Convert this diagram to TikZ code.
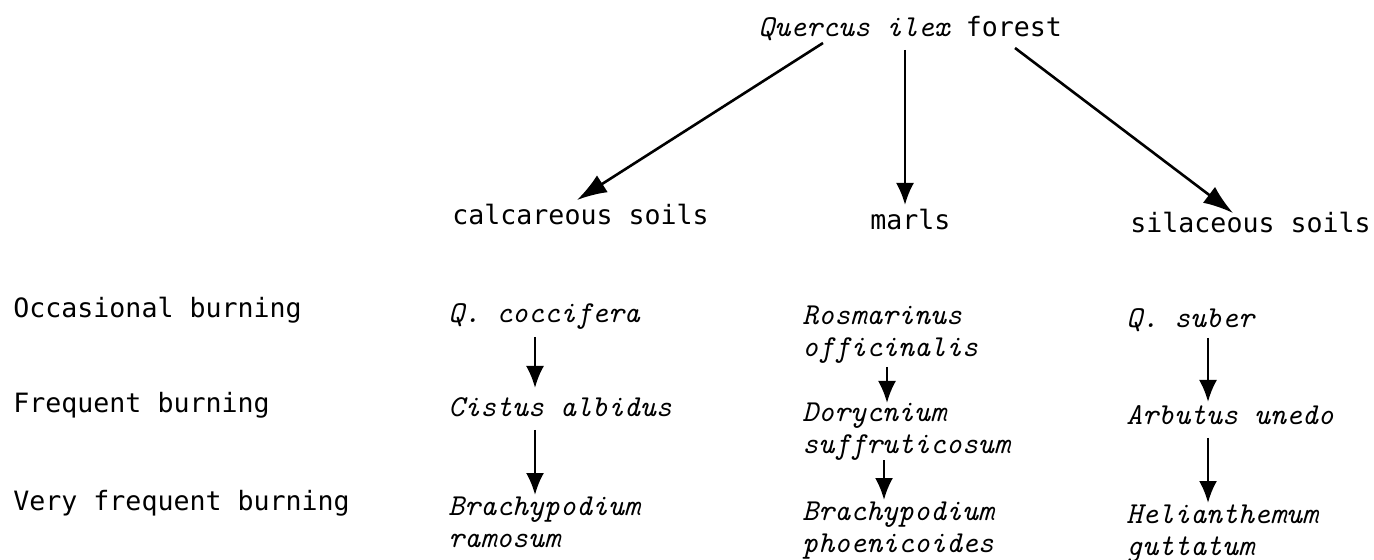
\documentclass[tikz,border=0pt]{standalone}
\usepackage{fontspec}
\usetikzlibrary{arrows.meta}
\newfontfamily\gothic{DejaVu Sans Mono}
\newcommand{\rom}{\gothic\upshape\fontsize{13.3}{16}\selectfont}
\newcommand{\twolines}[2]{\begin{tabular}[t]{@{}l@{}}#1\\#2\end{tabular}}
\tikzset{
  lbl/.style={font=\rom, anchor=base west, inner sep=0pt},
  sp/.style={font=\ttfamily\itshape\fontsize{15.2}{16}\selectfont\addfontfeatures{FakeBold=0.8},
    anchor=base west, inner sep=0pt},
  arr/.style={-{Latex[length=11pt,width=9pt]}, line width=1.3pt},
  darr/.style={-{Latex[length=15pt,width=10pt]}, line width=1.3pt}
}
\begin{document}
\begin{tikzpicture}[x=0.5pt, y=-0.5pt]
\useasboundingbox (0,0) rectangle (1374,560);
% top and soils
\node[sp] (top) at (758,37) {Quercus ilex {\rom forest}};
\node[lbl] (calc) at (452,225) {calcareous soils};
\node[lbl] (marl) at (870,230) {marls};
\node[lbl] (sila) at (1130,233) {silaceous soils};
\draw[darr] ([shift={(65,6)}]top.base west) -- ([shift={(125,-25)}]calc.base west);
\draw[arr] ([shift={(147,13)}]top.base west) -- ([shift={(35,-25)}]marl.base west);
\draw[darr] ([shift={(257,11)}]top.base west) -- ([shift={(103,-20)}]sila.base west);
% burning levels
\node[lbl] (occ) at (13,318) {Occasional burning};
\node[lbl] (freq) at (13,413) {Frequent burning};
\node[lbl] (vfreq) at (13,510) {Very frequent burning};
% calcareous soils
\node[sp] (qcoc) at (448,323) {Q. coccifera};
\node[sp] (cist) at (448,417) {Cistus albidus};
\node[sp] (bram) at (448,515) {\twolines{Brachypodium}{ramosum}};
\draw[arr] ([shift={(87,14)}]qcoc.base west) -- ([shift={(87,-29)}]cist.base west);
\draw[arr] ([shift={(87,13)}]cist.base west) -- ([shift={(87,-20)}]bram.base west);
% marls
\node[sp] (rosm) at (802,325) {\twolines{Rosmarinus}{officinalis}};
\node[sp] (dory) at (802,422) {\twolines{Dorycnium}{suffruticosum}};
\node[sp] (brap) at (802,520) {\twolines{Brachypodium}{phoenicoides}};
\draw[arr] ([shift={(85,42)}]rosm.base west) -- ([shift={(85,-19)}]dory.base west);
\draw[arr] ([shift={(82,38)}]dory.base west) -- ([shift={(82,-20)}]brap.base west);
% silaceous soils
\node[sp] (qsub) at (1126,328) {Q. suber};
\node[sp] (arbu) at (1126,425) {Arbutus unedo};
\node[sp] (heli) at (1126,523) {\twolines{Helianthemum}{guttatum}};
\draw[arr] ([shift={(82,10)}]qsub.base west) -- ([shift={(82,-23)}]arbu.base west);
\draw[arr] ([shift={(82,13)}]arbu.base west) -- ([shift={(82,-20)}]heli.base west);
\end{tikzpicture}
\end{document}
